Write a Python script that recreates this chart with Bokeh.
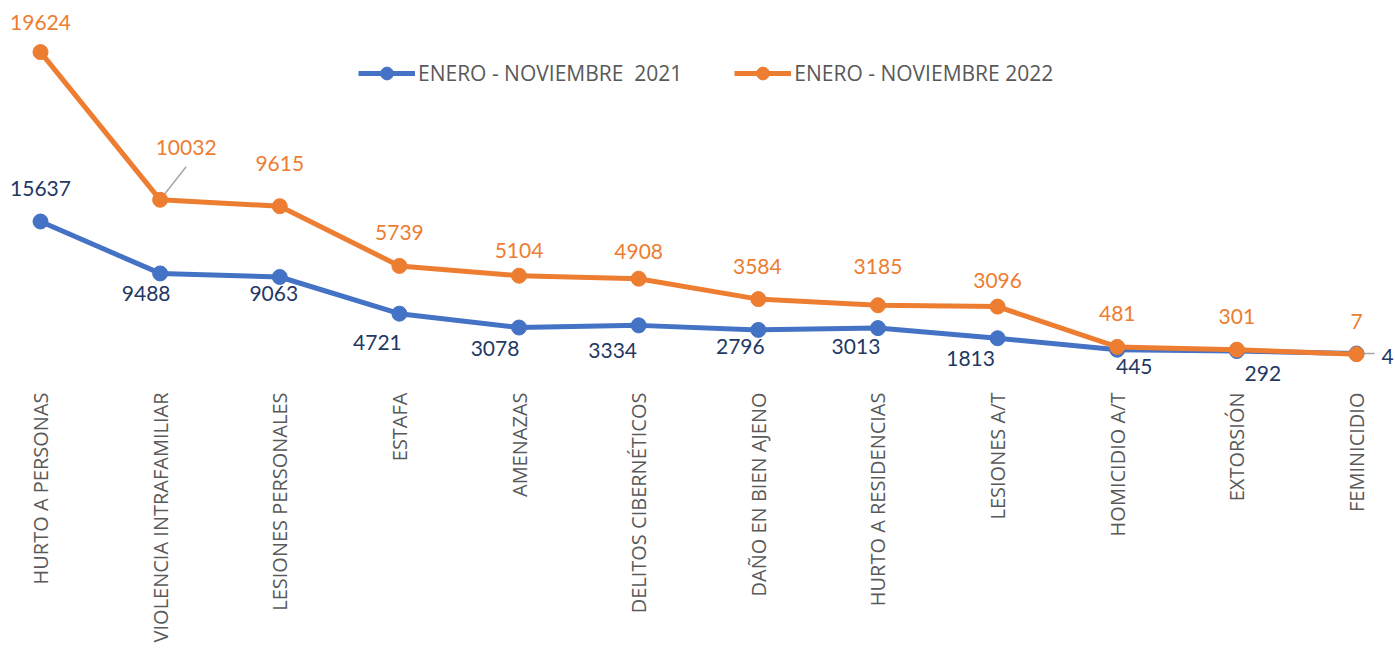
import math
from bokeh.plotting import figure
from bokeh.models import (ColumnDataSource, Range1d, FixedTicker, Legend, LegendItem)
from bokeh.core.properties import value
from bokeh.embed import file_html
from bokeh.resources import INLINE

# ---------------- data ----------------
categories = ["HURTO A PERSONAS", "VIOLENCIA INTRAFAMILIAR", "LESIONES PERSONALES",
              "ESTAFA", "AMENAZAS", "DELITOS CIBERNÉTICOS", "DAÑO EN BIEN AJENO",
              "HURTO A RESIDENCIAS", "LESIONES A/T", "HOMICIDIO A/T", "EXTORSIÓN",
              "FEMINICIDIO"]
values_2021 = [15637, 9488, 9063, 4721, 3078, 3334, 2796, 3013, 1813, 445, 292, 4]
values_2022 = [19624, 10032, 9615, 5739, 5104, 4908, 3584, 3185, 3096, 481, 301, 7]
name_2021 = "ENERO - NOVIEMBRE  2021"
name_2022 = "ENERO - NOVIEMBRE 2022"

# ---------------- styles (label placement in screen px) ----------------
lab21_dx = [0, -14, -6, -22, -24, -26, -18, -22, -27, 17, 26, 31]
lab21_dy = [-33, 20, 17, 29, 21, 25, 17, 18, 20, 17, 22, 3]
lab22_dx = [0, 26, 0, 0, 0, 0, -1, 0, 0, 0, 0, 0]
lab22_dy = [-30, -52, -43, -33, -25, -27, -33, -39, -26, -33, -33, -33]

BLUE = "#4472C4"
ORANGE = "#ED7D31"
NAVY = "#1F3864"
GREY = "#595959"

FW, FH = 1387, 378
x_rng = Range1d(-0.2675, 11.326)
y_rng = Range1d(-3905, 40861)
y2_rng = Range1d(-2091, 22455)

p = figure(frame_width=FW, frame_height=FH, output_backend="svg", toolbar_location=None,
           x_range=x_rng, y_range=y_rng, y_axis_location=None,
           min_border_left=8, min_border_right=0, min_border_top=8, min_border_bottom=0)
p.extra_y_ranges = {"y2": y2_rng}
p.outline_line_color = None
p.xgrid.visible = False
p.ygrid.visible = False
p.background_fill_color = "white"
p.border_fill_color = "white"

xs = list(range(len(categories)))

ax = p.xaxis[0]
ax.ticker = FixedTicker(ticks=xs)
ax.major_label_overrides = {i: c for i, c in enumerate(categories)}
ax.major_label_orientation = math.pi / 2
ax.axis_line_color = None
ax.major_tick_line_color = None
ax.minor_tick_line_color = None
ax.major_tick_out = 0
ax.major_tick_in = 0
ax.major_label_standoff = 6
ax.major_label_text_font = "Open Sans"
ax.major_label_text_font_size = "20px"
ax.major_label_text_color = GREY

src21 = ColumnDataSource(dict(x=xs, y=values_2021, t=[str(v) for v in values_2021],
                              dx=lab21_dx, dy=lab21_dy))
src22 = ColumnDataSource(dict(x=xs, y=values_2022, t=[str(v) for v in values_2022],
                              dx=lab22_dx, dy=lab22_dy))

# leader lines (from point outwards, in screen px converted through the scales)
pxx = FW / (x_rng.end - x_rng.start)
pxy2 = FH / (y2_rng.end - y2_rng.start)
i1 = 1
p.segment(x0=[xs[i1]], y0=[values_2022[i1]], x1=[xs[i1] + 26 / pxx],
          y1=[values_2022[i1] + 33 / pxy2], y_range_name="y2",
          line_color="#A6A6A6", line_width=1.5)
i2 = 11
p.segment(x0=[xs[i2]], y0=[values_2021[i2]], x1=[xs[i2] + 18 / pxx],
          y1=[values_2021[i2]], line_color="#A6A6A6", line_width=1.5)

l21 = p.line("x", "y", source=src21, line_color=BLUE, line_width=5, line_join="round")
s21 = p.scatter("x", "y", source=src21, size=15, fill_color=BLUE, line_color=BLUE)
l22 = p.line("x", "y", source=src22, line_color=ORANGE, line_width=5, line_join="round",
             y_range_name="y2")
s22 = p.scatter("x", "y", source=src22, size=15, fill_color=ORANGE, line_color=ORANGE,
                y_range_name="y2")

p.text("x", "y", text="t", source=src21, x_offset="dx", y_offset="dy",
       text_align="center", text_baseline="middle", text_color=NAVY,
       text_font=value("Lato"), text_font_size="21px")
p.text("x", "y", text="t", source=src22, x_offset="dx", y_offset="dy",
       text_align="center", text_baseline="middle", text_color=ORANGE,
       text_font=value("Lato"), text_font_size="21px", y_range_name="y2")

legend = Legend(items=[LegendItem(label=name_2021, renderers=[l21, s21]),
                       LegendItem(label=name_2022, renderers=[l22, s22])],
                orientation="horizontal", location=(350, 297),
                glyph_width=57, glyph_height=32, label_standoff=3, spacing=52,
                padding=0, margin=0, border_line_alpha=0, background_fill_alpha=0,
                label_text_font="Open Sans", label_text_font_size="21px",
                label_text_color=GREY, label_height=32)
p.add_layout(legend)

open("out.html", "w").write(file_html(p, INLINE))
